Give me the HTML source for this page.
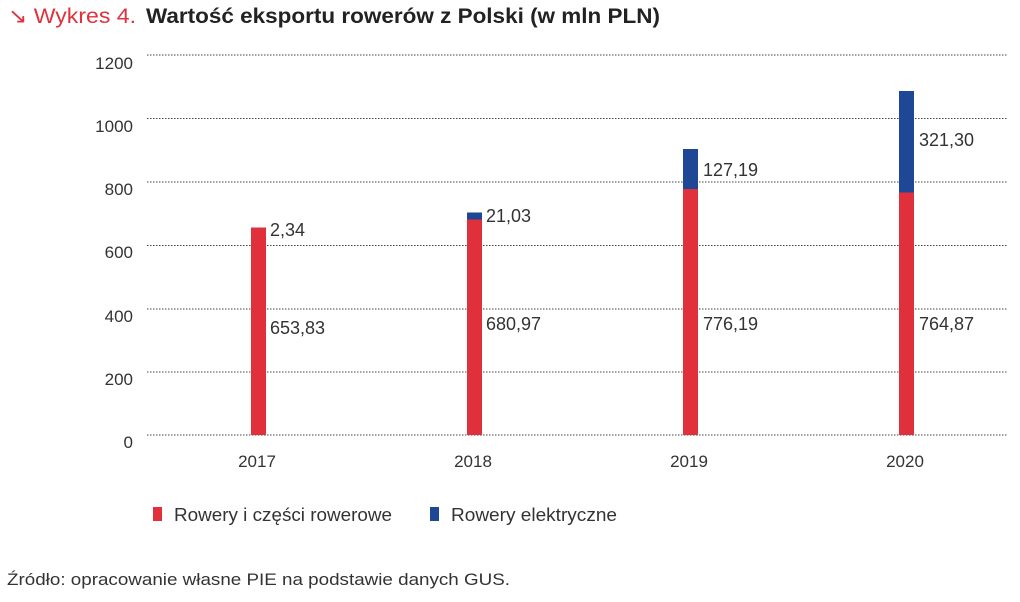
<!DOCTYPE html>
<html><head><meta charset="utf-8"><style>
body{margin:0;background:#fff;width:1020px;height:597px;overflow:hidden}
</style></head><body>
<svg width="1020" height="597" xmlns="http://www.w3.org/2000/svg" font-family="Liberation Sans, sans-serif">
<text x="8" y="23" font-size="21" fill="#e0323c" textLength="128" lengthAdjust="spacingAndGlyphs">↘ Wykres 4.</text>
<text x="146" y="23" font-size="21" fill="#222" font-weight="bold" textLength="514" lengthAdjust="spacingAndGlyphs">Wartość eksportu rowerów z Polski (w mln PLN)</text>
<g stroke="#444" stroke-width="1" stroke-dasharray="1.5,1.5">
<line x1="147" x2="1008" y1="55" y2="55"/>
<line x1="147" x2="1008" y1="118.5" y2="118.5"/>
<line x1="147" x2="1008" y1="182" y2="182"/>
<line x1="147" x2="1008" y1="245.5" y2="245.5"/>
<line x1="147" x2="1008" y1="309" y2="309"/>
<line x1="147" x2="1008" y1="372" y2="372"/>
<line x1="147" x2="1008" y1="435" y2="435"/>
</g>
<g font-size="17" fill="#333" text-anchor="end">
<text x="133" y="69">1200</text><text x="133" y="132">1000</text><text x="133" y="195">800</text>
<text x="133" y="258">600</text><text x="133" y="322">400</text><text x="133" y="385">200</text><text x="133" y="448">0</text>
</g>
<g fill="#e0303c">
<rect x="251" y="227.5" width="15" height="207.5"/>
<rect x="467" y="219.5" width="15" height="215.5"/>
<rect x="683" y="189" width="15" height="246"/>
<rect x="899" y="192.5" width="15" height="242.5"/>
</g>
<g fill="#1e4796">
<rect x="467" y="212.5" width="15" height="7"/>
<rect x="683" y="149" width="15" height="40"/>
<rect x="899" y="91" width="15" height="101.5"/>
</g>
<g font-size="18" fill="#333">
<text x="270" y="236">2,34</text><text x="270" y="334">653,83</text>
<text x="486" y="222">21,03</text><text x="486" y="330">680,97</text>
<text x="703" y="176">127,19</text><text x="703" y="330">776,19</text>
<text x="919" y="146">321,30</text><text x="919" y="330">764,87</text>
</g>
<g font-size="17" fill="#333" text-anchor="middle">
<text x="257" y="467">2017</text><text x="473" y="467">2018</text><text x="689" y="467">2019</text><text x="905" y="467">2020</text>
</g>
<rect x="153" y="507" width="9" height="14" fill="#e0303c"/>
<text x="174" y="521" font-size="18" fill="#333" textLength="218" lengthAdjust="spacingAndGlyphs">Rowery i części rowerowe</text>
<rect x="430" y="507" width="9" height="14" fill="#1e4796"/>
<text x="451" y="521" font-size="18" fill="#333" textLength="166" lengthAdjust="spacingAndGlyphs">Rowery elektryczne</text>
<text x="7" y="585" font-size="17" fill="#333" textLength="503" lengthAdjust="spacingAndGlyphs">Źródło: opracowanie własne PIE na podstawie danych GUS.</text>
</svg>
</body></html>
